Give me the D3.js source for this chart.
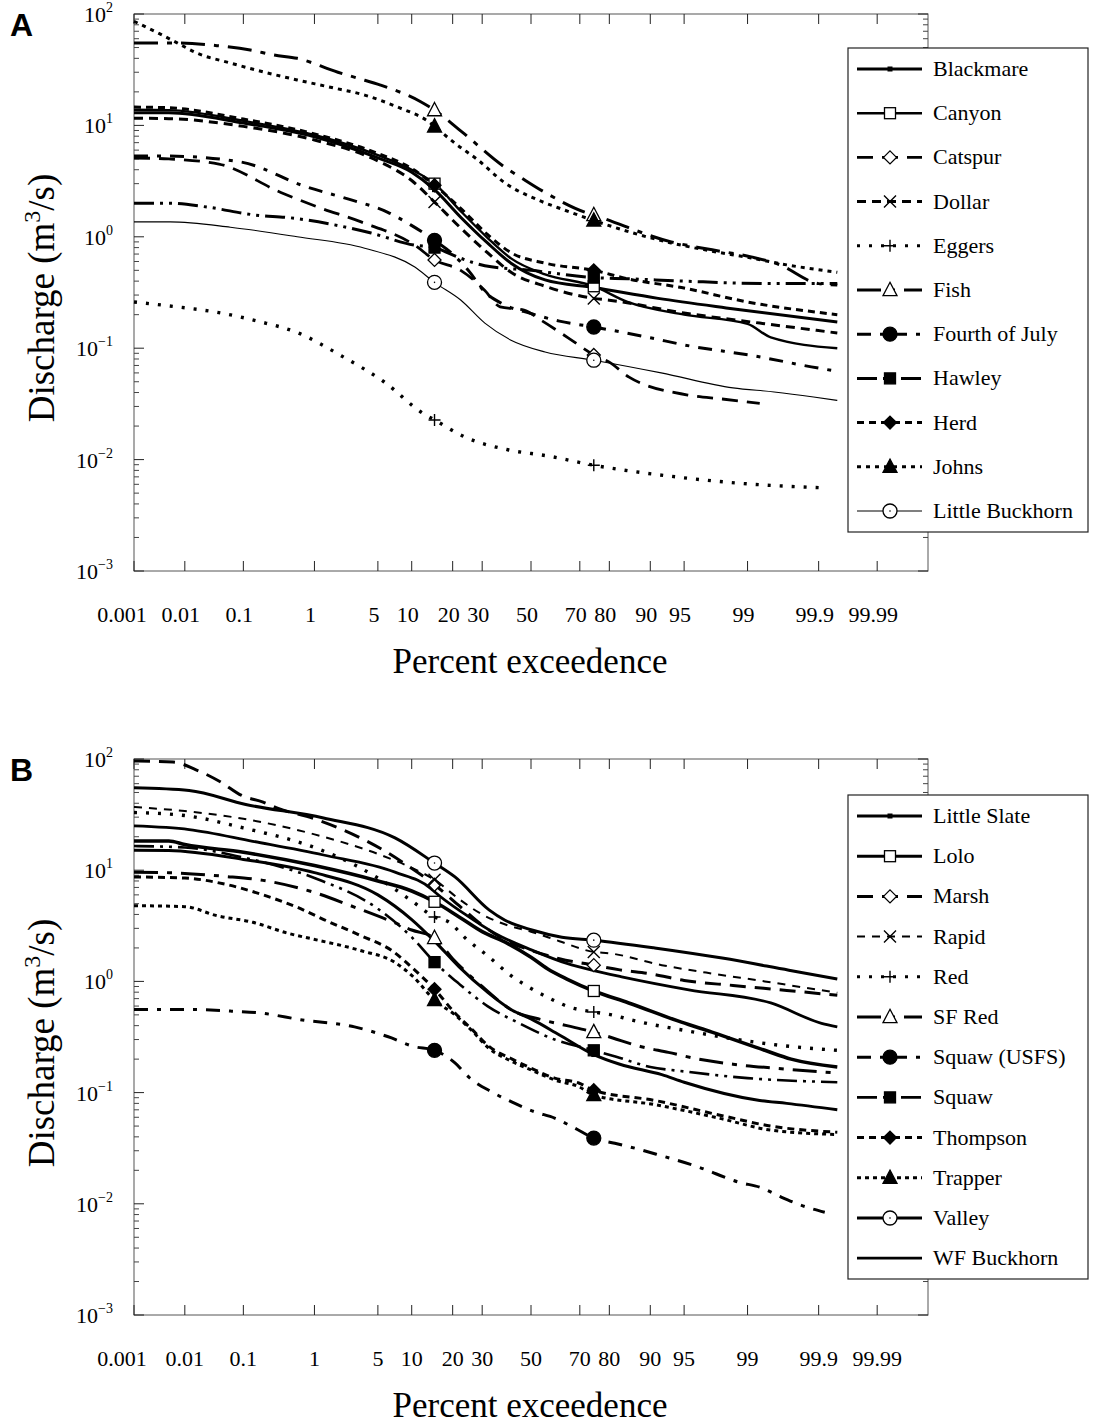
<!DOCTYPE html>
<html>
<head>
<meta charset="utf-8">
<script src="https://cdn.jsdelivr.net/npm/d3@7"></script>
<style>
  body { margin: 0; background: #fff; }
  svg { display: block; }
</style>
</head>
<body>
<svg id="chart" width="1097" height="1424"></svg>
<script>
// ---------- axis tick values ----------
const xTicks = [0.001, 0.01, 0.1, 1, 5, 10, 20, 30, 50, 70, 80, 90, 95, 99, 99.9, 99.99];
const yExponents = [-3, -2, -1, 0, 1, 2];
const markerPercents = [15, 75];

// ---------- panel A: [percent exceedence, discharge m3/s] ----------
const namesA = ["Blackmare", "Canyon", "Catspur", "Dollar", "Eggers", "Fish",
  "Fourth of July", "Hawley", "Herd", "Johns", "Little Buckhorn"];

const blackmare = [[0.001,13],[0.005,13],[0.1,10.5],[1,7.9],[5,5.1],[10,3.8],[15,2.65],[22.5,1.5],[32,0.88],[41.5,0.58],[56,0.41],[75,0.35],[91.4,0.28],[98.2,0.23],[99.95,0.172]];
const canyon = [[0.001,13.8],[0.005,13.7],[0.1,11],[1,8.2],[5,5.4],[10,4.0],[15,3.0],[22.5,1.7],[32,0.98],[41.5,0.64],[56,0.46],[75,0.36],[85,0.26],[95,0.2],[99,0.165],[99.5,0.125],[99.95,0.1]];
const catspur = [[0.001,5.1],[0.005,5.0],[0.04,4.5],[0.36,2.5],[1.1,1.85],[3.4,1.36],[10.6,0.84],[15,0.62],[22.5,0.5],[31,0.33],[37,0.235],[47,0.22],[54,0.18],[65.5,0.124],[75,0.087],[80,0.075],[85.4,0.055],[95.4,0.038],[98,0.035],[99.3,0.032]];
const dollar = [[0.001,11.6],[0.005,11.5],[0.1,9.8],[1,7.4],[5,4.8],[10,3.2],[15,2.05],[22.5,1.2],[32,0.72],[41.5,0.48],[56,0.36],[75,0.28],[80,0.27],[95,0.207],[99.3,0.168],[99.95,0.137]];
const eggers = [[0.001,0.26],[0.0072,0.235],[0.037,0.21],[0.18,0.173],[0.62,0.137],[2.1,0.085],[5.7,0.05],[12.5,0.0257],[15,0.0227],[24,0.0159],[40.6,0.0122],[57,0.0108],[75,0.0089],[94,0.007],[99.16,0.006],[99.9,0.0056]];
const fish = [[0.001,55],[0.0065,55],[0.037,52],[0.128,47.5],[0.29,42.8],[0.6,40],[1.9,30],[3.1,26.6],[5.3,23],[11.8,16.3],[15,13.7],[23,8.7],[39,4.2],[45.7,3.4],[56,2.5],[72,1.66],[75,1.57],[93.4,0.9],[97,0.78],[99.1,0.66],[99.6,0.57],[99.9,0.38],[99.95,0.37]];
const fourthOfJuly = [[0.001,5.3],[0.005,5.3],[0.09,4.7],[0.8,2.8],[2.4,2.2],[6.2,1.66],[9.8,1.28],[15,0.93],[20,0.7],[25,0.5],[31,0.32],[38,0.25],[50,0.205],[62,0.175],[75,0.155],[90,0.124],[95,0.107],[99.2,0.085],[99.87,0.068],[99.95,0.062]];
const hawley = [[0.001,2.0],[0.005,2.0],[0.025,1.85],[0.15,1.57],[0.49,1.48],[1.74,1.28],[4.3,1.08],[10.6,0.84],[15,0.8],[22,0.65],[31,0.55],[50,0.5],[75,0.43],[85,0.42],[95,0.4],[99.5,0.38],[99.95,0.38]];
const herd = [[0.001,14.6],[0.005,14.4],[0.1,11.4],[1,8.4],[5,5.6],[10,4.1],[15,2.9],[22.5,1.8],[32,1.05],[41.5,0.72],[56,0.58],[75,0.5],[85,0.42],[94.7,0.35],[99,0.26],[99.95,0.2]];
const johns = [[0.001,86],[0.0032,67],[0.0072,55],[0.0165,44.6],[0.062,36.3],[0.21,30],[0.6,25.6],[1.56,22],[3.7,18.7],[7.6,14.6],[14,10.5],[15,9.8],[20.6,6.95],[28.4,4.9],[39,3.04],[53,2.14],[64,1.74],[75,1.4],[93.4,0.88],[97,0.76],[99.1,0.645],[99.7,0.56],[99.95,0.48]];
const littleBuckhorn = [[0.001,1.36],[0.0053,1.36],[0.062,1.22],[0.6,1.0],[3.7,0.79],[10.6,0.535],[15,0.39],[22.5,0.271],[31,0.168],[41.5,0.118],[56,0.0925],[75,0.078],[91.9,0.06],[98.5,0.044],[99.55,0.0405],[99.88,0.0365],[99.95,0.034]];

// ---------- panel B ----------
const namesB = ["Little Slate", "Lolo", "Marsh", "Rapid", "Red", "SF Red",
  "Squaw (USFS)", "Squaw", "Thompson", "Trapper", "Valley", "WF Buckhorn"];

const littleSlate = [[0.001,15.1],[0.005,15],[0.1,12.5],[1,9.5],[5,6],[10,3.6],[15,2.3],[22,1.35],[32,0.8],[42,0.55],[50,0.46],[62,0.33],[75,0.22],[83,0.18],[92,0.145],[95,0.124],[99.3,0.085],[99.7,0.08],[99.95,0.07]];
const lolo = [[0.001,18.3],[0.005,18.3],[0.01,17],[0.1,14.5],[1,11],[5,8],[10,6.5],[15,5.2],[22,3.8],[30,2.8],[40,2.2],[50,1.65],[57,1.3],[65,1.05],[75,0.82],[85.3,0.64],[94.7,0.43],[97.4,0.35],[99.4,0.24],[99.74,0.2],[99.95,0.17]];
const marsh = [[0.001,96],[0.006,94],[0.016,80],[0.043,62],[0.094,47],[0.2,41],[0.33,36],[1,29],[2.3,22.6],[5.8,14.9],[9,11.2],[15,7.4],[22,4.8],[30,3.2],[40,2.3],[50,1.9],[62,1.6],[75,1.4],[83,1.27],[90,1.17],[95,1.02],[98.5,0.92],[99.7,0.83],[99.95,0.75]];
const rapid = [[0.001,37],[0.01,34],[0.1,29],[1,21],[5,14],[10,10.5],[15,8.2],[22,5.5],[30,4.0],[40,3.2],[50,2.8],[62,2.3],[75,1.84],[80,1.79],[92,1.4],[97,1.2],[99.4,1.0],[99.95,0.79]];
const red = [[0.001,33],[0.01,31],[0.1,24],[1,16],[3,11],[5,8.5],[10,5.3],[15,3.8],[19,3.4],[24,2.46],[32.6,1.66],[41,1.15],[49,0.89],[57.6,0.71],[65.8,0.59],[75,0.53],[80.7,0.5],[86,0.45],[90.3,0.41],[93.5,0.38],[96,0.35],[99.18,0.285],[99.55,0.27],[99.9,0.247],[99.95,0.24]];
const sfRed = [[0.001,9.6],[0.005,9.5],[0.05,8.8],[0.2,8.1],[1,6.3],[3,4.6],[7,3.4],[10,2.9],[15,2.46],[20,1.6],[30,0.9],[42,0.55],[55,0.45],[65,0.4],[75,0.35],[81,0.31],[88,0.26],[93,0.23],[96.4,0.2],[98.5,0.18],[99.6,0.165],[99.95,0.15]];
const squawUsfs = [[0.001,0.56],[0.01,0.56],[0.065,0.54],[0.18,0.52],[0.7,0.45],[2.9,0.39],[6.7,0.31],[10.3,0.26],[15,0.24],[20.7,0.185],[25.3,0.137],[33.8,0.101],[42,0.082],[51.7,0.067],[60,0.059],[68,0.048],[75,0.039],[81.6,0.035],[86.8,0.0316],[91.5,0.0275],[96.4,0.0214],[98.7,0.0157],[99.34,0.0139],[99.64,0.0115],[99.81,0.00975],[99.92,0.0084]];
const squaw = [[0.001,16.5],[0.01,16],[0.1,13],[1,8.5],[5,4.5],[10,2.5],[15,1.49],[22,0.95],[32,0.6],[45,0.42],[60,0.3],[75,0.24],[82,0.21],[90,0.17],[95,0.155],[99,0.135],[99.95,0.124]];
const thompson = [[0.001,8.7],[0.01,8.5],[0.05,7.5],[0.2,6.0],[0.62,4.6],[1.3,3.6],[3.3,2.6],[6.7,1.9],[10.3,1.3],[15,0.85],[20.7,0.52],[26.3,0.37],[32.6,0.26],[42,0.2],[50,0.166],[60,0.135],[69.6,0.122],[75,0.105],[90.8,0.085],[98,0.062],[99.5,0.05],[99.95,0.044]];
const trapper = [[0.001,4.8],[0.01,4.7],[0.037,3.9],[0.14,3.4],[0.46,2.7],[0.97,2.4],[3.3,1.9],[7.2,1.48],[10.3,1.1],[15,0.68],[20.7,0.5],[26.3,0.36],[32.6,0.25],[42,0.19],[50,0.16],[60,0.13],[69.6,0.113],[75,0.095],[90.8,0.078],[98,0.058],[99.5,0.046],[99.95,0.042]];
const valley = [[0.001,55],[0.012,52],[0.109,39],[1.29,29.5],[7.2,19.5],[15,11.6],[20.7,8.7],[32.6,4.4],[39,3.55],[50.4,2.9],[63,2.5],[75,2.35],[90.8,2.0],[98,1.62],[99.72,1.26],[99.95,1.05]];
const wfBuckhorn = [[0.001,25],[0.012,23.2],[0.14,18.2],[1.29,13.7],[7.2,9.6],[14.2,6.8],[15,6.4],[24,4.0],[35,2.7],[50.4,1.91],[65,1.45],[75,1.25],[83.5,1.1],[95.5,0.84],[99.5,0.64],[99.91,0.42],[99.95,0.39]];

const seriesA = [blackmare, canyon, catspur, dollar, eggers, fish, fourthOfJuly, hawley, herd, johns, littleBuckhorn];
const seriesB = [littleSlate, lolo, marsh, rapid, red, sfRed, squawUsfs, squaw, thompson, trapper, valley, wfBuckhorn];

// ---------- line and marker styles (legend order) ----------
const stylesA = [
  { dash: null, w: 3, m: "dot" },
  { dash: null, w: 2.4, m: "squareOpen" },
  { dash: "16,9", w: 2.8, m: "diamondOpen" },
  { dash: "9,6", w: 3, m: "x" },
  { dash: "3,9", w: 3.4, m: "plus" },
  { dash: "24,9,5,9", w: 3, m: "triangleOpen" },
  { dash: "14,9,4,9", w: 3, m: "circleFilled" },
  { dash: "20,6,3,6,3,6", w: 3, m: "squareFilled" },
  { dash: "7,5", w: 3, m: "diamondFilled" },
  { dash: "4,5", w: 3, m: "triangleFilled" },
  { dash: null, w: 1.1, m: "circleOpen" }
];
const stylesB = [
  { dash: null, w: 3, m: "dot" },
  { dash: null, w: 3.6, m: "squareOpen" },
  { dash: "16,9", w: 3, m: "diamondOpen" },
  { dash: "8,7", w: 2, m: "x" },
  { dash: "3,9", w: 3.4, m: "plus" },
  { dash: "24,9,5,9", w: 3, m: "triangleOpen" },
  { dash: "14,9,4,9", w: 3, m: "circleFilled" },
  { dash: "20,6,3,6,3,6", w: 2.6, m: "squareFilled" },
  { dash: "7,5", w: 3, m: "diamondFilled" },
  { dash: "4,4", w: 3, m: "triangleFilled" },
  { dash: null, w: 3, m: "circleOpen" },
  { dash: null, w: 2.8, m: "none" }
];

// ---------- normal probability (probit) transform ----------
function probit(p) {
  const a = [-3.969683028665376e+01, 2.209460984245205e+02, -2.759285104469687e+02, 1.383577518672690e+02, -3.066479806614716e+01, 2.506628277459239e+00];
  const b = [-5.447609879822406e+01, 1.615858368580409e+02, -1.556989798598866e+02, 6.680131188771972e+01, -1.328068155288572e+01];
  const c = [-7.784894002430293e-03, -3.223964580411365e-01, -2.400758277161838e+00, -2.549732539343734e+00, 4.374664141464968e+00, 2.938163982698783e+00];
  const d = [7.784695709041462e-03, 3.224671290700398e-01, 2.445134137142996e+00, 3.754408661907416e+00];
  const pl = 0.02425, ph = 1 - pl;
  let q, r;
  if (p < pl) {
    q = Math.sqrt(-2 * Math.log(p));
    return (((((c[0]*q+c[1])*q+c[2])*q+c[3])*q+c[4])*q+c[5]) / ((((d[0]*q+d[1])*q+d[2])*q+d[3])*q+1);
  }
  if (p <= ph) {
    q = p - 0.5; r = q * q;
    return (((((a[0]*r+a[1])*r+a[2])*r+a[3])*r+a[4])*r+a[5])*q / (((((b[0]*r+b[1])*r+b[2])*r+b[3])*r+b[4])*r+1);
  }
  q = Math.sqrt(-2 * Math.log(1 - p));
  return -(((((c[0]*q+c[1])*q+c[2])*q+c[3])*q+c[4])*q+c[5]) / ((((d[0]*q+d[1])*q+d[2])*q+d[3])*q+1);
}

const svg = d3.select("#chart");
const serif = "'Liberation Serif', 'Times New Roman', serif";
const zMax = probit(0.99999);
const x = d3.scaleLinear().domain([-zMax, zMax]).range([134, 928]);
const px = p => x(probit(p / 100));

// marker glyphs
function drawMarker(g, type, cx, cy) {
  if (type === "none") return;
  const k = g.append("g").attr("transform", `translate(${cx},${cy})`);
  const open = type.endsWith("Open");
  const fill = open ? "#fff" : "#000";
  if (type === "dot") {
    k.append("rect").attr("x", -2.5).attr("y", -2.5).attr("width", 5).attr("height", 5).attr("fill", "#000");
  } else if (type.startsWith("square")) {
    k.append("rect").attr("x", -5.5).attr("y", -5.5).attr("width", 11).attr("height", 11)
      .attr("fill", fill).attr("stroke", "#000").attr("stroke-width", 1.3);
  } else if (type.startsWith("diamond")) {
    const s = 6.5;
    k.append("path").attr("d", `M0,${-s}L${s},0L0,${s}L${-s},0Z`)
      .attr("fill", fill).attr("stroke", "#000").attr("stroke-width", 1.3);
  } else if (type.startsWith("triangle")) {
    const s = 7;
    k.append("path").attr("d", `M0,${-s * 1.1}L${s},${s * 0.8}L${-s},${s * 0.8}Z`)
      .attr("fill", fill).attr("stroke", "#000").attr("stroke-width", 1.3);
  } else if (type.startsWith("circle")) {
    k.append("circle").attr("r", 7).attr("fill", fill).attr("stroke", "#000").attr("stroke-width", 1.3);
    if (open) k.append("circle").attr("r", 0.8).attr("fill", "#000");
  } else if (type === "x") {
    const s = 6;
    k.append("path").attr("d", `M${-s},${-s}L${s},${s}M${-s},${s}L${s},${-s}`)
      .attr("stroke", "#000").attr("stroke-width", 1.4).attr("fill", "none");
  } else if (type === "plus") {
    const s = 6;
    k.append("path").attr("d", `M${-s},0H${s}M0,${-s}V${s}`)
      .attr("stroke", "#000").attr("stroke-width", 1.4).attr("fill", "none");
  }
}

function drawPanel(cfg) {
  const g = svg.append("g");
  const y = d3.scaleLog().domain([1e-3, 1e2]).range([cfg.bottom, cfg.top]);
  const [x0, x1] = x.range();

  // panel letter
  g.append("text").attr("x", 10).attr("y", cfg.top + 22)
    .attr("font-family", "'Liberation Sans', Arial, sans-serif").attr("font-weight", "bold")
    .attr("font-size", 32).text(cfg.letter);

  // frame
  g.append("rect").attr("x", x0).attr("y", cfg.top).attr("width", x1 - x0).attr("height", cfg.bottom - cfg.top)
    .attr("fill", "none").attr("stroke", "#555").attr("stroke-width", 1);

  // x ticks on top and bottom (inward), labels below
  xTicks.forEach((p, i) => {
    const xx = px(p);
    g.append("line").attr("x1", xx).attr("x2", xx).attr("y1", cfg.bottom).attr("y2", cfg.bottom - 10)
      .attr("stroke", "#222").attr("stroke-width", 1);
    g.append("line").attr("x1", xx).attr("x2", xx).attr("y1", cfg.top).attr("y2", cfg.top + 10)
      .attr("stroke", "#222").attr("stroke-width", 1);
    g.append("text").attr("x", xx - (i === 0 ? 12 : cfg.labelShift)).attr("y", cfg.bottom + 51)
      .attr("text-anchor", "middle").attr("font-family", serif).attr("font-size", 22)
      .text(String(p));
  });

  // y ticks (log, major and minor) on both sides
  yExponents.forEach(e => {
    const base = Math.pow(10, e);
    const yy = y(base);
    [[x0, 1], [x1, -1]].forEach(([xe, dir]) => {
      g.append("line").attr("x1", xe).attr("x2", xe + dir * 10).attr("y1", yy).attr("y2", yy)
        .attr("stroke", "#222").attr("stroke-width", 1);
    });
    if (e < 2) {
      for (let m = 2; m <= 9; m++) {
        const ym = y(base * m);
        [[x0, 1], [x1, -1]].forEach(([xe, dir]) => {
          g.append("line").attr("x1", xe).attr("x2", xe + dir * 5).attr("y1", ym).attr("y2", ym)
            .attr("stroke", "#444").attr("stroke-width", 1);
        });
      }
    }
    const t = g.append("text").attr("x", 113).attr("y", yy + 8).attr("text-anchor", "end")
      .attr("font-family", serif).attr("font-size", 22);
    t.append("tspan").text("10");
    t.append("tspan").attr("dy", -10).attr("font-size", 14).text(e < 0 ? "\u2212" + (-e) : String(e));
  });

  // axis titles
  g.append("text").attr("x", (x0 + x1) / 2 - 1).attr("y", cfg.bottom + 102)
    .attr("text-anchor", "middle").attr("font-family", serif).attr("font-size", 35)
    .text("Percent exceedence");
  const yt = g.append("text")
    .attr("transform", `translate(54,${cfg.yTitleCenter}) rotate(-90)`)
    .attr("text-anchor", "middle").attr("font-family", serif).attr("font-size", 37);
  yt.append("tspan").text("Discharge (m");
  yt.append("tspan").attr("dy", -14).attr("font-size", 24).text("3");
  yt.append("tspan").attr("dy", 14).text("/s)");

  // curves
  const line = d3.line().x(d => px(d[0])).y(d => y(d[1])).curve(d3.curveMonotoneX);
  cfg.series.forEach((s, i) => {
    const st = cfg.styles[i];
    g.append("path").datum(s).attr("d", line).attr("fill", "none")
      .attr("stroke", "#000").attr("stroke-width", st.w)
      .attr("stroke-dasharray", st.dash).attr("stroke-linecap", "butt");
  });
  // markers at 15 % and 75 %
  cfg.series.forEach((s, i) => {
    s.filter(d => markerPercents.includes(d[0]))
      .forEach(d => drawMarker(g, cfg.styles[i].m, px(d[0]), y(d[1])));
  });

  // legend
  const lg = g.append("g");
  lg.append("rect").attr("x", 848).attr("y", cfg.legendTop).attr("width", 240)
    .attr("height", cfg.legendBottom - cfg.legendTop)
    .attr("fill", "#fff").attr("stroke", "#222").attr("stroke-width", 1.2);
  cfg.names.forEach((name, i) => {
    const st = cfg.styles[i];
    const ly = cfg.rowStart + i * cfg.rowStep;
    lg.append("line").attr("x1", 857).attr("x2", 922).attr("y1", ly).attr("y2", ly)
      .attr("stroke", "#000").attr("stroke-width", Math.min(st.w, 3)).attr("stroke-dasharray", st.dash);
    drawMarker(lg, st.m, 890, ly);
    lg.append("text").attr("x", 933).attr("y", ly + 7).attr("font-family", serif)
      .attr("font-size", 22).text(name);
  });
}

drawPanel({ letter: "A", top: 14, bottom: 571, names: namesA, series: seriesA, styles: stylesA,
  legendTop: 48, legendBottom: 532, rowStart: 69, rowStep: 44.2, yTitleCenter: 298, labelShift: 4 });
drawPanel({ letter: "B", top: 759, bottom: 1315, names: namesB, series: seriesB, styles: stylesB,
  legendTop: 795, legendBottom: 1279, rowStart: 816, rowStep: 40.2, yTitleCenter: 1043, labelShift: 0 });
</script>
</body>
</html>
